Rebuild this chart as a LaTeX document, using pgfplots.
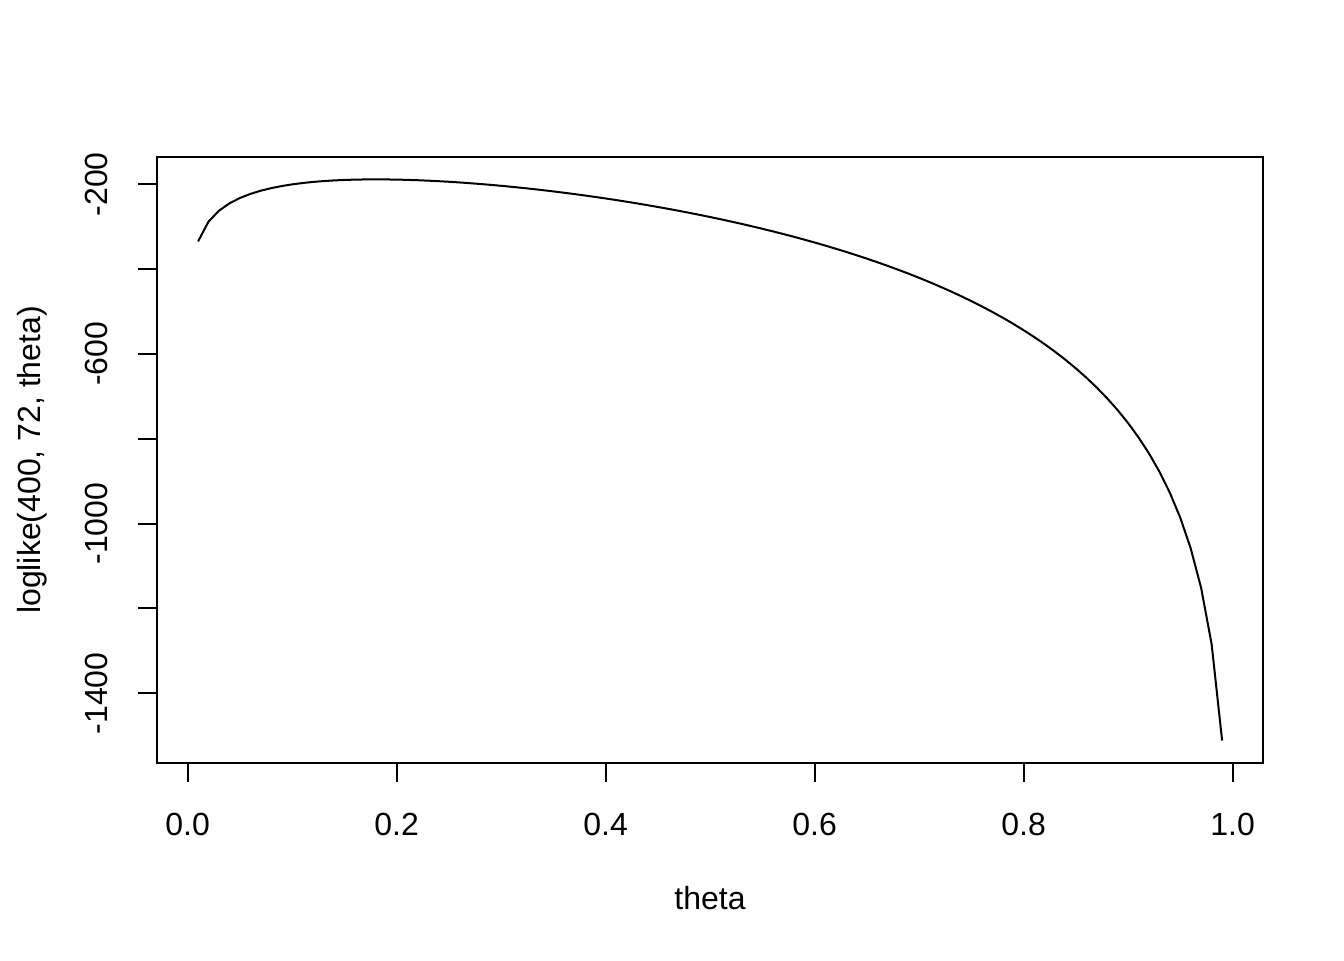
\documentclass[border=0pt,12pt]{standalone}
\usepackage{fontspec}
\setmainfont{Liberation Sans}
\usepackage{pgfplots}
\pgfplotsset{compat=1.18}
\begin{document}
\begin{tikzpicture}
\path[use as bounding box] (-58.9pt,-73.9pt) rectangle (445.1pt,286.1pt);
\begin{axis}[at={(0,0)}, anchor=south west, scale only axis,
  width=414.75pt, height=227.25pt,
  xmin=-0.0292, xmax=1.0292, ymin=-1564.1, ymax=-135.65,
  axis line style={line width=0.75pt},
  tick align=outside, xtick pos=bottom, ytick pos=left,
  major tick length=7.2pt, tick style={black, line width=0.75pt},
  xtick={0,0.2,0.4,0.6,0.8,1},
  xticklabels={0.0,0.2,0.4,0.6,0.8,1.0},
  xticklabel style={yshift=-7.4pt},
  ytick={-1400,-1200,-1000,-800,-600,-400,-200},
  yticklabels={-1400,,-1000,,-600,,-200},
  yticklabel style={xshift=-7pt, rotate=90, anchor=south},
  xlabel={theta}, ylabel={loglike(400, 72, theta)},
  xlabel style={at={(axis description cs:0.5,-0.2425)}, anchor=base},
  ylabel style={at={(axis description cs:-0.105,0.5)}, anchor=base, rotate=0},
]
\addplot[black, line width=0.75pt] table {
x y
0.01 -334.869
0.02 -288.292
0.03 -262.463
0.04 -245.149
0.05 -232.516
0.06 -222.860
0.07 -215.270
0.08 -209.201
0.09 -204.306
0.10 -200.344
0.11 -197.147
0.12 -194.588
0.13 -192.574
0.14 -191.030
0.15 -189.898
0.16 -189.134
0.17 -188.697
0.18 -188.557
0.19 -188.689
0.20 -189.070
0.21 -189.683
0.22 -190.512
0.23 -191.544
0.24 -192.768
0.25 -194.173
0.26 -195.752
0.27 -197.497
0.28 -199.403
0.29 -201.464
0.30 -203.676
0.31 -206.034
0.32 -208.536
0.33 -211.180
0.34 -213.963
0.35 -216.884
0.36 -219.941
0.37 -223.134
0.38 -226.462
0.39 -229.925
0.40 -233.524
0.41 -237.259
0.42 -241.131
0.43 -245.141
0.44 -249.291
0.45 -253.583
0.46 -258.019
0.47 -262.601
0.48 -267.334
0.49 -272.218
0.50 -277.258
0.51 -282.460
0.52 -287.824
0.53 -293.358
0.54 -299.067
0.55 -304.955
0.56 -311.029
0.57 -317.294
0.58 -323.760
0.59 -330.433
0.60 -337.323
0.61 -344.437
0.62 -351.786
0.63 -359.381
0.64 -367.234
0.65 -375.358
0.66 -383.767
0.67 -392.475
0.68 -401.502
0.69 -410.864
0.70 -420.583
0.71 -430.682
0.72 -441.185
0.73 -452.120
0.74 -463.519
0.75 -475.418
0.76 -487.853
0.77 -500.872
0.78 -514.523
0.79 -528.865
0.80 -543.962
0.81 -559.892
0.82 -576.742
0.83 -594.617
0.84 -613.640
0.85 -633.957
0.86 -655.744
0.87 -679.220
0.88 -704.651
0.89 -732.376
0.90 -762.834
0.91 -796.596
0.92 -834.442
0.93 -877.463
0.94 -927.254
0.95 -986.293
0.96 -1058.731
0.97 -1152.344
0.98 -1284.598
0.99 -1511.219
};
\end{axis}
\end{tikzpicture}
\end{document}
